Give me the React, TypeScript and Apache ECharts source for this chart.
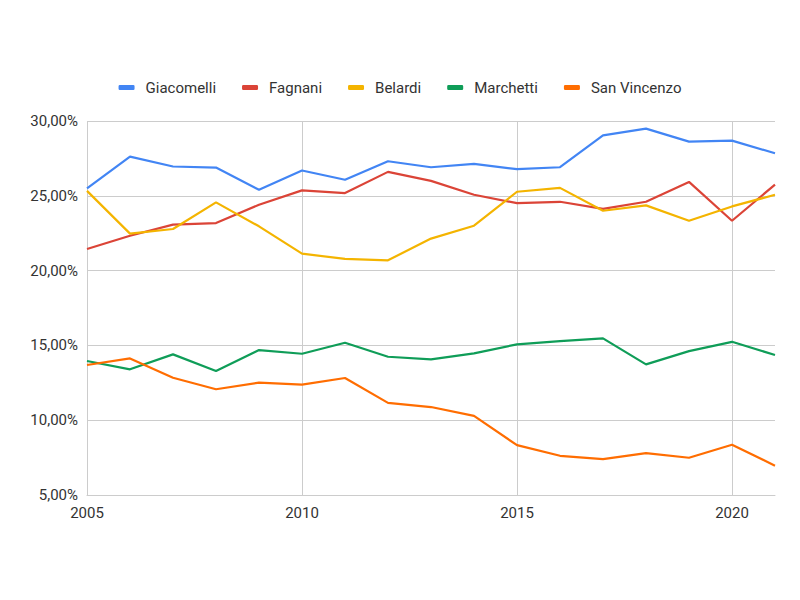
import React, { useEffect, useRef } from "react";
import * as echarts from "echarts";

const years = ["2005","2006","2007","2008","2009","2010","2011","2012","2013","2014","2015","2016","2017","2018","2019","2020","2021"];
const giacomelli = [25.5, 27.62, 26.96, 26.89, 25.4, 26.69, 26.07, 27.31, 26.91, 27.13, 26.78, 26.91, 29.04, 29.49, 28.62, 28.69, 27.84];
const fagnani = [21.44, 22.33, 23.07, 23.18, 24.4, 25.36, 25.18, 26.6, 26.0, 25.07, 24.51, 24.6, 24.13, 24.6, 25.93, 23.33, 25.75];
const belardi = [25.33, 22.47, 22.78, 24.56, 22.96, 21.13, 20.78, 20.69, 22.14, 23.0, 25.27, 25.53, 24.0, 24.36, 23.33, 24.29, 25.07];
const marchetti = [13.96, 13.4, 14.4, 13.29, 14.69, 14.44, 15.18, 14.24, 14.07, 14.47, 15.07, 15.29, 15.47, 13.73, 14.62, 15.24, 14.36];
const sanVincenzo = [13.69, 14.13, 12.84, 12.07, 12.51, 12.38, 12.82, 11.16, 10.88, 10.29, 8.33, 7.62, 7.4, 7.8, 7.49, 8.36, 6.96];

const seriesNames = ["Giacomelli", "Fagnani", "Belardi", "Marchetti", "San Vincenzo"];
const seriesData = [giacomelli, fagnani, belardi, marchetti, sanVincenzo];
const colors = ["#4285F4", "#DB4437", "#F4B400", "#0F9D58", "#FF6D01"];

export default function App() {
  const ref = useRef<HTMLDivElement>(null);
  useEffect(() => {
    const chart = echarts.init(ref.current!, undefined, { renderer: "svg" });
    chart.setOption({
      animation: false,
      color: colors,
      textStyle: { fontFamily: "Roboto, Arial, sans-serif" },
      legend: {
        top: 75,
        left: "center",
        icon: "roundRect",
        itemWidth: 16,
        itemHeight: 5,
        itemGap: 26,
        textStyle: { fontSize: 15, color: "#333", padding: [0, 0, 0, 6] },
        data: seriesNames,
      },
      grid: { left: 87, right: 25, top: 121, bottom: 105, containLabel: false },
      xAxis: {
        type: "category",
        data: years,
        boundaryGap: false,
        axisLine: { show: true, lineStyle: { color: "#ccc", width: 1 } },
        axisTick: { show: false },
        axisLabel: { interval: 4, color: "#333", fontSize: 15, margin: 10 },
        splitLine: { show: true, interval: 4, lineStyle: { color: "#ccc", width: 1 } },
      },
      yAxis: {
        type: "value",
        min: 5,
        max: 30,
        interval: 5,
        axisLine: { show: false },
        axisTick: { show: false },
        axisLabel: {
          color: "#333",
          fontSize: 15,
          margin: 9,
          formatter: (v: number) => v.toFixed(2).replace(".", ",") + "%",
        },
        splitLine: { show: true, lineStyle: { color: "#ccc", width: 1 } },
      },
      series: seriesNames.map((name, i) => ({
        name,
        type: "line",
        data: seriesData[i],
        showSymbol: false,
        symbol: "none",
        lineStyle: { width: 2.2 },
      })),
    });
    return () => chart.dispose();
  }, []);
  return <div ref={ref} style={{ width: 800, height: 600, margin: -8 }} />;
}
